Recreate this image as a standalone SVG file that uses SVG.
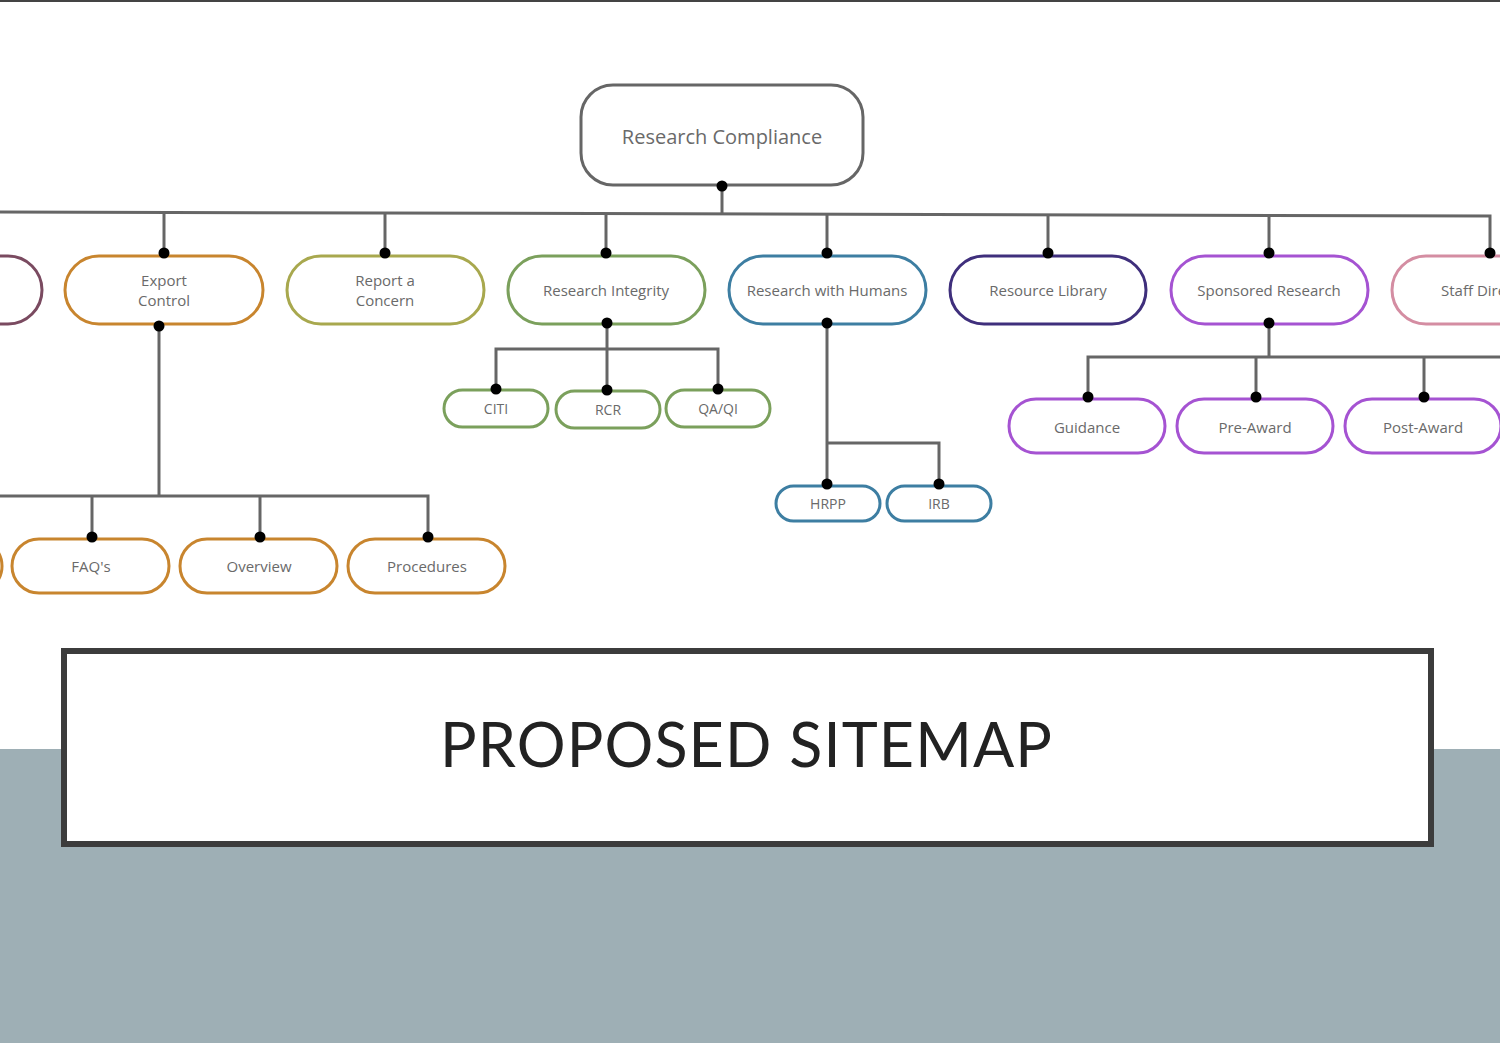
<svg xmlns="http://www.w3.org/2000/svg" width="1500" height="1043" viewBox="0 0 1500 1043">
<style>
.node{fill:#fff;stroke-width:3}
.lbl{font-family:"Open Sans","Noto Sans",sans-serif;fill:#6a6a6a;text-anchor:middle}
.l1{font-size:15px}
.l2{font-size:15px}
.l3{font-size:14px}
.conn line,.conn polyline{stroke:#666;stroke-width:3;fill:none}
.dot{fill:#000}
</style>
<rect x="0" y="0" width="1500" height="1043" fill="#fff"/>
<rect x="0" y="0" width="1500" height="2" fill="#444"/>
<rect x="0" y="749" width="1500" height="294" fill="#9eafb5"/>

<g class="conn" id="connectors">
<line x1="722" y1="186" x2="722" y2="214"/>
<polyline points="0,212 1490,216 1490,253"/>
<line x1="164" y1="212.4" x2="164" y2="253"/>
<line x1="385" y1="213" x2="385" y2="253"/>
<line x1="606" y1="213.6" x2="606" y2="253"/>
<line x1="827" y1="214.2" x2="827" y2="253"/>
<line x1="1048" y1="214.8" x2="1048" y2="253"/>
<line x1="1269" y1="215.4" x2="1269" y2="253"/>
<line x1="159" y1="326" x2="159" y2="496"/>
<polyline points="0,496 428,496 428,537"/>
<line x1="92" y1="496" x2="92" y2="537"/>
<line x1="260" y1="496" x2="260" y2="537"/>
<line x1="607" y1="323" x2="607" y2="390"/>
<polyline points="496,389 496,349 718,349 718,389"/>
<line x1="827" y1="323" x2="827" y2="484"/>
<polyline points="827,443 939,443 939,484"/>
<line x1="1269" y1="323" x2="1269" y2="357"/>
<polyline points="1088,397 1088,357 1500,357"/>
<line x1="1256" y1="357" x2="1256" y2="397"/>
<line x1="1424" y1="357" x2="1424" y2="397"/>
</g>

<g id="research-compliance">
<rect class="node" x="581" y="85" width="282" height="100" rx="32" stroke="#666"/>
<text class="lbl" x="722" y="144" font-size="20">Research Compliance</text>
<circle class="dot" cx="722" cy="186" r="5.5"/>
</g>

<g id="left-partial">
<rect class="node" x="-156" y="256" width="198" height="68" rx="34" stroke="#7a4a60"/>
</g>

<g id="export-control">
<rect class="node" x="65" y="256" width="198" height="68" rx="34" stroke="#c8852e"/>
<text class="lbl l1" x="164" y="286">Export</text>
<text class="lbl l1" x="164" y="306">Control</text>
<circle class="dot" cx="164" cy="253" r="5.5"/>
<circle class="dot" cx="159" cy="326" r="5.5"/>
</g>

<g id="report-concern">
<rect class="node" x="287" y="256" width="197" height="68" rx="34" stroke="#a8a84e"/>
<text class="lbl l1" x="385" y="286">Report a</text>
<text class="lbl l1" x="385" y="306">Concern</text>
<circle class="dot" cx="385" cy="253" r="5.5"/>
</g>

<g id="research-integrity">
<rect class="node" x="508" y="256" width="197" height="68" rx="34" stroke="#7ba05c"/>
<text class="lbl l1" x="606" y="296">Research Integrity</text>
<circle class="dot" cx="606" cy="253" r="5.5"/>
<circle class="dot" cx="607" cy="323" r="5.5"/>
</g>

<g id="research-humans">
<rect class="node" x="729" y="256" width="197" height="68" rx="34" stroke="#3d7ea2"/>
<text class="lbl l1" x="827" y="296">Research with Humans</text>
<circle class="dot" cx="827" cy="253" r="5.5"/>
<circle class="dot" cx="827" cy="323" r="5.5"/>
</g>

<g id="resource-library">
<rect class="node" x="950" y="256" width="196" height="68" rx="34" stroke="#3f2f7c"/>
<text class="lbl l1" x="1048" y="296">Resource Library</text>
<circle class="dot" cx="1048" cy="253" r="5.5"/>
</g>

<g id="sponsored-research">
<rect class="node" x="1171" y="256" width="197" height="68" rx="34" stroke="#a553d2"/>
<text class="lbl l1" x="1269" y="296">Sponsored Research</text>
<circle class="dot" cx="1269" cy="253" r="5.5"/>
<circle class="dot" cx="1269" cy="323" r="5.5"/>
</g>

<g id="staff-directory">
<rect class="node" x="1392" y="256" width="198" height="68" rx="34" stroke="#d48da2"/>
<text class="lbl l1" x="1441" y="296" text-anchor="start" style="text-anchor:start">Staff Directory</text>
<circle class="dot" cx="1490" cy="253" r="5.5"/>
</g>

<g id="export-partial">
<rect class="node" x="-155" y="539" width="157" height="54" rx="27" stroke="#c8852e"/>
</g>
<g id="faqs">
<rect class="node" x="12" y="539" width="157" height="54" rx="27" stroke="#c8852e"/>
<text class="lbl l2" x="91" y="572">FAQ's</text>
<circle class="dot" cx="92" cy="537" r="5.5"/>
</g>
<g id="overview">
<rect class="node" x="180" y="539" width="157" height="54" rx="27" stroke="#c8852e"/>
<text class="lbl l2" x="259" y="572">Overview</text>
<circle class="dot" cx="260" cy="537" r="5.5"/>
</g>
<g id="procedures">
<rect class="node" x="348" y="539" width="157" height="54" rx="27" stroke="#c8852e"/>
<text class="lbl l2" x="427" y="572">Procedures</text>
<circle class="dot" cx="428" cy="537" r="5.5"/>
</g>

<g id="citi">
<rect class="node" x="444" y="390" width="104" height="37" rx="18.5" stroke="#7ba05c"/>
<text class="lbl l3" x="496" y="414">CITI</text>
<circle class="dot" cx="496" cy="389" r="5.5"/>
</g>
<g id="rcr">
<rect class="node" x="556" y="391" width="104" height="37" rx="18.5" stroke="#7ba05c"/>
<text class="lbl l3" x="608" y="415">RCR</text>
<circle class="dot" cx="607" cy="390" r="5.5"/>
</g>
<g id="qaqi">
<rect class="node" x="666" y="390" width="104" height="37" rx="18.5" stroke="#7ba05c"/>
<text class="lbl l3" x="718" y="414">QA/QI</text>
<circle class="dot" cx="718" cy="389" r="5.5"/>
</g>

<g id="hrpp">
<rect class="node" x="776" y="486" width="104" height="35" rx="17.5" stroke="#3d7ea2"/>
<text class="lbl l3" x="828" y="509">HRPP</text>
<circle class="dot" cx="827" cy="484" r="5.5"/>
</g>
<g id="irb">
<rect class="node" x="887" y="486" width="104" height="35" rx="17.5" stroke="#3d7ea2"/>
<text class="lbl l3" x="939" y="509">IRB</text>
<circle class="dot" cx="939" cy="484" r="5.5"/>
</g>

<g id="guidance">
<rect class="node" x="1009" y="399" width="156" height="54" rx="27" stroke="#a553d2"/>
<text class="lbl l2" x="1087" y="433">Guidance</text>
<circle class="dot" cx="1088" cy="397" r="5.5"/>
</g>
<g id="pre-award">
<rect class="node" x="1177" y="399" width="156" height="54" rx="27" stroke="#a553d2"/>
<text class="lbl l2" x="1255" y="433">Pre-Award</text>
<circle class="dot" cx="1256" cy="397" r="5.5"/>
</g>
<g id="post-award">
<rect class="node" x="1345" y="399" width="156" height="54" rx="27" stroke="#a553d2"/>
<text class="lbl l2" x="1423" y="433">Post-Award</text>
<circle class="dot" cx="1424" cy="397" r="5.5"/>
</g>

<g id="title">
<rect x="64" y="651" width="1367" height="193" fill="#fff" stroke="#3c3c3c" stroke-width="6"/>
<text x="746" y="767" font-family="Lato,'Open Sans',sans-serif" font-size="61" fill="#222" text-anchor="middle" textLength="612" lengthAdjust="spacing">PROPOSED SITEMAP</text>
</g>
</svg>
